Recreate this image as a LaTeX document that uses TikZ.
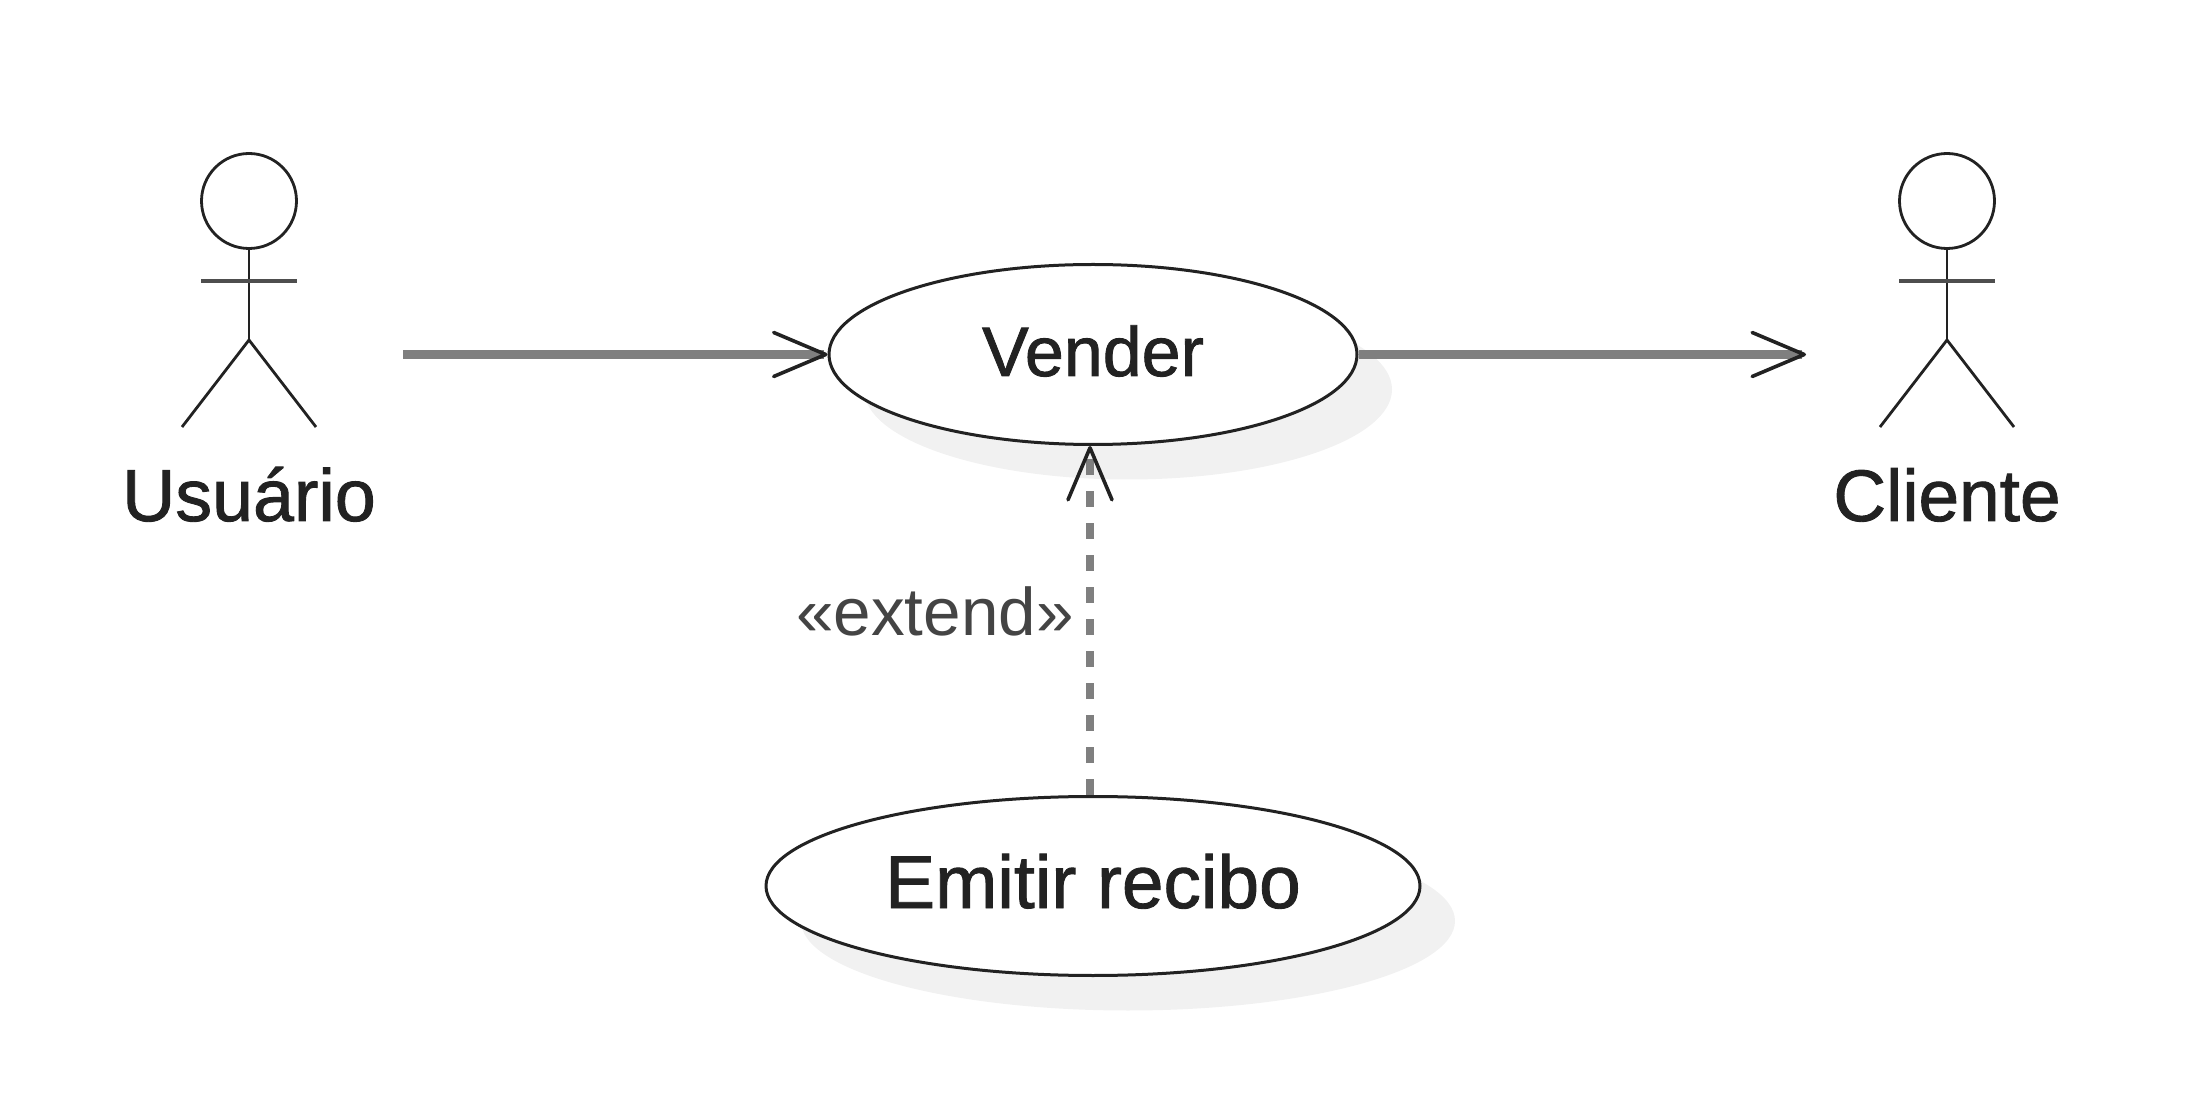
\documentclass[tikz,border=0pt]{standalone}
\usepackage{fontspec}
\setmainfont{Liberation Sans}
\newfontfamily\medfont[FakeBold=1.2]{Liberation Sans}
\usetikzlibrary{arrows.meta,shapes.geometric,shadows}
\definecolor{inkdark}{HTML}{222222}
\definecolor{shaft}{HTML}{7F7F7F}
\definecolor{shadowgray}{HTML}{F1F1F1}
\definecolor{labelgray}{HTML}{444444}
\tikzset{
  usecase/.style={ellipse,draw=inkdark,fill=white,line width=1.5pt,inner sep=0pt,
    general shadow={fill=shadowgray,shadow xshift=17.5pt,shadow yshift=-17.5pt}},
  stick/.style={draw=inkdark,line width=1.4pt},
  armstick/.style={draw=inkdark!80,line width=2pt},
  nametext/.style={text=inkdark,inner sep=0pt,anchor=base},
  openhead/.style={-{Straight Barb[length=26pt,width=22pt,line width=1.8pt,color=inkdark,round=false]}},
  assoc/.style={draw=shaft,line width=4.5pt,openhead},
  extendline/.style={draw=shaft,line width=3.6pt,dash pattern=on 8pt off 8pt,openhead},
}
\newcommand{\stickfigure}[4]{% name, x, label, font size
  \node[circle,stick,inner sep=0pt,minimum size=47.5pt] (#1head) at (#2,201) {};
  \coordinate (#1hip) at (#2,340);
  \coordinate (#1armL) at (#2-48,281);
  \coordinate (#1armR) at (#2+48,281);
  \coordinate (#1legL) at (#2-67,427);
  \coordinate (#1legR) at (#2+67,427);
  \draw[stick] (#1head.south) -- (#1hip);
  \draw[armstick] (#1armL) -- (#1armR);
  \draw[stick] (#1legL) -- (#1hip) -- (#1legR);
  \node[nametext,font=\medfont\fontsize{#4}{40}\selectfont] (#1label) at (#2,521) {#3};
}
\begin{document}
\begin{tikzpicture}[x=0.5pt,y=-0.5pt]
  \useasboundingbox (0,0) rectangle (2192,1112);
  \node[usecase,minimum width=264pt,minimum height=90pt] (vender) at (1093,354.5) {};
  \node[usecase,minimum width=327pt,minimum height=89.5pt] (emitir) at (1093,886) {};
  \node[nametext,font=\medfont\fontsize{35}{40}\selectfont] (venderlabel) at (1093,376) {Vender};
  \node[nametext,font=\medfont\fontsize{37.4}{40}\selectfont] (emitirlabel) at (1093,908) {Emitir recibo};
  \stickfigure{usuario}{249}{Usuário}{36.8}
  \stickfigure{cliente}{1947}{Cliente}{36.5}
  \coordinate (usuariostart) at (403,354.5);
  \coordinate (clienteend) at (1806,354.5);
  \draw[assoc] (usuariostart) -- (vender.west);
  \draw[assoc] (vender.east) -- (clienteend);
  \draw[extendline] (emitir.north -| 1090,0) -- (vender.south -| 1090,0);
  \node[text=labelgray,inner sep=0pt,anchor=base,font=\fontsize{33.7}{38}\selectfont] (extendlabel) at (935,636) {«extend»};
\end{tikzpicture}
\end{document}
